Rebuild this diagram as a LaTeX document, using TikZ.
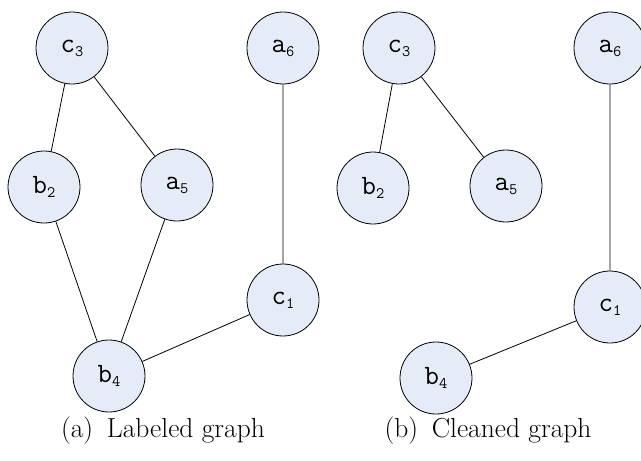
\documentclass[tikz,border=0pt]{standalone}
\usepackage{fontspec}
\usepackage{tikz}
\usetikzlibrary{positioning}

\definecolor{nodefill}{RGB}{230,236,247}

\newcommand{\idx}[1]{\raisebox{-4pt}{\fontsize{16}{16}\selectfont #1}}

\tikzset{
  vertex/.style={circle, draw, fill=nodefill, line width=0.8pt,
    minimum size=72pt, inner sep=0pt,
    font=\fontsize{28}{32}\selectfont\ttfamily},
  caption/.style={font=\fontsize{27.5}{32}\selectfont}
}

\begin{document}
\begin{tikzpicture}[x=1pt, y=-1pt, line width=0.8pt]
        \useasboundingbox (0,0) rectangle (641,461);

        % labeled graph
        \node [vertex] (c3) at (72, 48) {c\idx{3}};
        \node [vertex] (b2) at (44, 187) {b\idx{2}};
        \node [vertex] (a5) at (177, 185) {a\idx{5}};
        \node [vertex] (a6) at (283, 48) {a\idx{6}};
        \node [vertex] (c1) at (283, 300) {c\idx{1}};
        \node [vertex] (b4) at (109, 376) {b\idx{4}};

        \draw
        (c3) -- (b2)
        (c3) -- (a5)
        (b2) -- (b4)
        (a5) -- (b4)
        (a6) -- (c1)
        (c1) -- (b4);

        % cleaned graph
        \node [vertex] (c3r) at (399, 48) {c\idx{3}};
        \node [vertex] (b2r) at (373, 188) {b\idx{2}};
        \node [vertex] (a5r) at (506, 186) {a\idx{5}};
        \node [vertex] (a6r) at (610, 48) {a\idx{6}};
        \node [vertex] (c1r) at (610, 307) {c\idx{1}};
        \node [vertex] (b4r) at (436, 378) {b\idx{4}};

        \draw
        (c3r) -- (b2r)
        (c3r) -- (a5r)
        (a6r) -- (c1r)
        (c1r) -- (b4r);

        \node [caption] (capa) at (163, 431) {(a)\enspace Labeled graph};
        \node [caption] (capb) at (488, 431) {(b)\enspace Cleaned graph};
\end{tikzpicture}
\end{document}
